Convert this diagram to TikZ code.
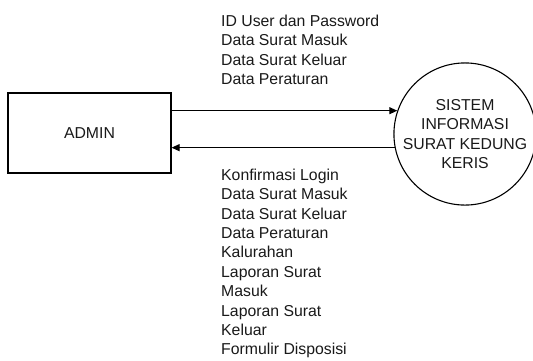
\documentclass[tikz,border=0pt]{standalone}
\usepackage{fontspec}
\setmainfont{Liberation Sans}
\usetikzlibrary{arrows.meta}
\begin{document}
\begin{tikzpicture}[x=1pt,y=-1pt,
  every node/.style={font=\fontsize{15.8}{19.4}\selectfont, text=black!90},
  entity/.style={draw, line width=1.1pt, minimum width=163pt, minimum height=80pt, inner sep=0pt},
  process/.style={draw, circle, line width=1.1pt, minimum size=132pt, inner sep=0pt, align=center},
  flowlabel/.style={align=left, inner sep=0pt, anchor=west},
  flow/.style={line width=1.1pt, -{Triangle[length=8pt,width=7pt]}}]
\useasboundingbox (0,0) rectangle (533,360);
\node[entity] (admin) at (89.5,133) {ADMIN};
\node[process] (sys) at (465,134) {SISTEM\\INFORMASI\\SURAT KEDUNG\\KERIS};
\draw[flow] (admin.east |- sys.161.5) -- (sys.161.5);
\draw[flow] (sys.191.4) -- (admin.east |- sys.191.4);
\node[flowlabel] (inlab) at (221,50) {ID User dan Password\\Data Surat Masuk\\Data Surat Keluar\\Data Peraturan};
\node[flowlabel] (outlab) at (221,263.5) {Konfirmasi Login\\Data Surat Masuk\\Data Surat Keluar\\Data Peraturan\\Kalurahan\\Laporan Surat\\Masuk\\Laporan Surat\\Keluar\\Formulir Disposisi};
\end{tikzpicture}
\end{document}
